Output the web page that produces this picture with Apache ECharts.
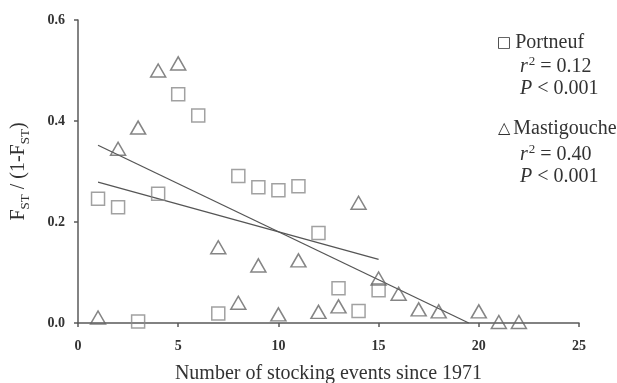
<!DOCTYPE html>
<html><head><meta charset="utf-8">
<script src="https://cdn.jsdelivr.net/npm/echarts@6/dist/echarts.min.js"></script>
<style>html,body{margin:0;padding:0;background:#fff}#c{width:617px;height:383px}</style>
</head><body><div id="c"></div>
<script>
// Data
var portneufX = [1,2,3,4,5,6,7,8,9,10,11,12,13,14,15];
var portneufY = [0.246,0.229,0.003,0.256,0.453,0.411,0.019,0.291,0.269,0.263,0.271,0.178,0.069,0.024,0.065];
var mastigoucheX = [1,2,3,4,5,7,8,9,10,11,12,13,14,15,16,17,18,20,21,22];
var mastigoucheY = [0.011,0.345,0.387,0.500,0.514,0.150,0.040,0.114,0.017,0.124,0.022,0.033,0.238,0.088,0.058,0.027,0.023,0.023,0.002,0.002];
var portneufFit = [[1,0.279],[15,0.126]];
var mastigoucheFit = [[1,0.352],[19.5,0]];
var xTicks = [0,5,10,15,20,25];
var yTicks = [0.0,0.2,0.4,0.6];

function pairs(xs, ys){ return xs.map(function(x,i){return [x, ys[i]];}); }

var serif = '"Liberation Serif","Times New Roman",serif';
var symFont = '"DejaVu Sans","Liberation Serif",sans-serif';
var chart = echarts.init(document.getElementById('c'));
var axisCol = '#5a5a5a';
var rich = {
  a:{fontFamily:serif,fontSize:20,color:'#333',lineHeight:24,verticalAlign:'middle'},
  i:{fontFamily:serif,fontSize:20,color:'#333',fontStyle:'italic',lineHeight:24,verticalAlign:'middle'},
  sup:{fontFamily:serif,fontSize:13,color:'#333',lineHeight:24,verticalAlign:'top',padding:[0,0,11,1]},
  sym:{fontFamily:symFont,fontSize:15,color:'#666',lineHeight:24,verticalAlign:'middle',padding:[0,4,0,0]},
  tri:{fontFamily:symFont,fontSize:16,color:'#666',lineHeight:24,verticalAlign:'middle',padding:[0,3,0,0]}
};
function gtext(x,y,t){
  return {type:'text',left:x,top:y,style:{text:t,rich:rich,font:'20px '+serif,fill:'#333'}};
}
chart.setOption({
  animation:false,
  grid:{left:78,right:38,top:20,bottom:60,containLabel:false,outerBoundsMode:'none'},
  xAxis:{type:'value',min:xTicks[0],max:xTicks[xTicks.length-1],interval:5,
    name:'Number of stocking events since 1971',nameLocation:'middle',nameGap:41,
    nameTextStyle:{fontFamily:serif,fontSize:20,color:'#333'},
    axisLine:{lineStyle:{color:axisCol,width:1.5}},
    axisTick:{show:true,length:4,lineStyle:{color:axisCol,width:1.5}},
    axisLabel:{fontFamily:serif,fontSize:14,fontWeight:'bold',color:'#333',margin:16},
    splitLine:{show:false}},
  yAxis:{type:'value',min:yTicks[0],max:yTicks[yTicks.length-1],interval:0.2,
    name:'{a|F}{s|ST}{a| / (1-F}{s|ST}{a|)}',nameLocation:'middle',nameGap:46,nameRotate:90,
    nameTextStyle:{rich:{
      a:{fontFamily:serif,fontSize:20,color:'#333',lineHeight:26,verticalAlign:'middle'},
      s:{fontFamily:serif,fontSize:13,color:'#333',lineHeight:26,verticalAlign:'bottom',padding:[9,0,0,0]}
    }},
    axisLine:{show:true,lineStyle:{color:axisCol,width:1.5}},
    axisTick:{show:true,length:4,lineStyle:{color:axisCol,width:1.5}},
    axisLabel:{fontFamily:serif,fontSize:14,fontWeight:'bold',color:'#333',margin:13,
      formatter:function(v){return v.toFixed(1);}},
    splitLine:{show:false}},
  series:[
    {type:'scatter',name:'Portneuf',data:pairs(portneufX,portneufY),symbol:'rect',symbolSize:13,
      itemStyle:{color:'rgba(255,255,255,0)',borderColor:'#8a8a8a',borderWidth:1.5},z:3},
    {type:'scatter',name:'Mastigouche',data:pairs(mastigoucheX,mastigoucheY),symbol:'triangle',symbolSize:[15,13],
      itemStyle:{color:'rgba(255,255,255,0)',borderColor:'#666',borderWidth:1.5},z:3},
    {type:'line',data:portneufFit,symbol:'none',lineStyle:{color:'#555',width:1.3},z:2},
    {type:'line',data:mastigoucheFit,symbol:'none',lineStyle:{color:'#555',width:1.3},z:2}
  ],
  graphic:[
    gtext(497,33,'{sym|□}{a|Portneuf}'),
    gtext(520,55,'{i|r}{sup|2}{a| = 0.12}'),
    gtext(520,79,'{i|P}{a| < 0.001}'),
    gtext(498,119,'{tri|△}{a|Mastigouche}'),
    gtext(520,143,'{i|r}{sup|2}{a| = 0.40}'),
    gtext(520,167,'{i|P}{a| < 0.001}')
  ]
});
</script></body></html>
